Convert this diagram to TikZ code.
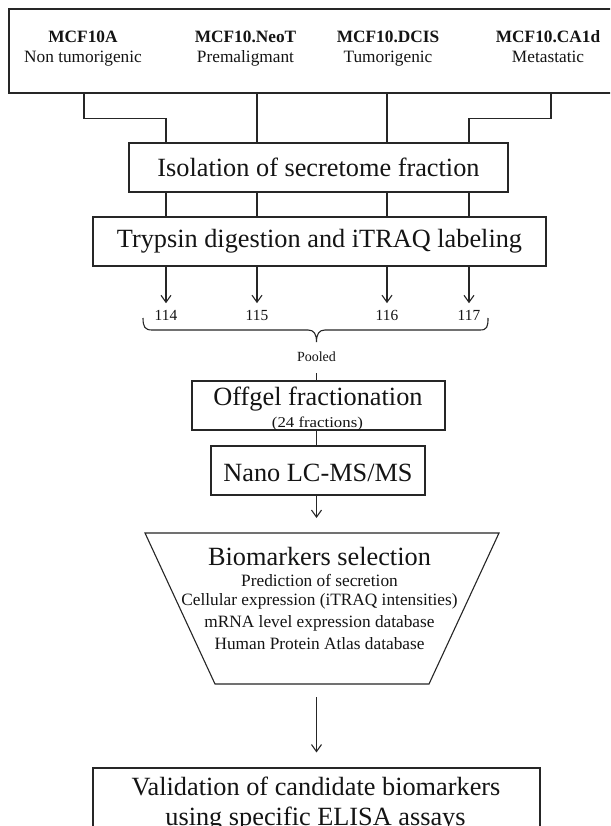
\documentclass[tikz,border=0pt]{standalone}
\usepackage{fontspec}
\setmainfont{Liberation Serif}
\usetikzlibrary{arrows.meta}
\begin{document}
\begin{tikzpicture}[x=1pt,y=-1pt,
  ln/.style={draw=black!85, line width=1.1pt},
  box/.style={ln, inner sep=0pt},
  bigtxt/.style={font=\fontsize{26.3}{29}\selectfont, inner sep=0pt, text=black!92},
  smalltxt/.style={font=\fontsize{17.3}{20.5}\selectfont, inner sep=0pt, align=center, text=black!92},
  lbltxt/.style={smalltxt, anchor=base},
  numtxt/.style={font=\fontsize{15.4}{18}\selectfont, inner sep=0pt, text=black!92},
  arr/.style={ln, -{Straight Barb[length=7pt,width=10pt]}},
]
\useasboundingbox (0,0) rectangle (610,826);
\clip (0,0) rectangle (610,826);
\fill[white] (0,0) rectangle (610,826);

% column coordinates
\coordinate (pA) at (84,0);
\coordinate (pD) at (551,0);
\coordinate (c1) at (166,0);
\coordinate (c2) at (257,0);
\coordinate (c3) at (387,0);
\coordinate (c4) at (469,0);
\coordinate (ax) at (316.5,0);

% top box with cell lines
\node[box, minimum width=606pt, minimum height=84pt] (top) at (312,51) {};
\node[lbltxt] (lA) at (83,42.3) {\textbf{MCF10A}};
\node[lbltxt] (lAs) at (83,62.3) {Non tumorigenic};
\node[lbltxt] (lB) at (245.5,42.3) {\textbf{MCF10.NeoT}};
\node[lbltxt] (lBs) at (245.5,62.3) {Premaligmant};
\node[lbltxt] (lC) at (388,42.3) {\textbf{MCF10.DCIS}};
\node[lbltxt] (lCs) at (388,62.3) {Tumorigenic};
\node[lbltxt] (lD) at (548,42.3) {\textbf{MCF10.CA1d}};
\node[lbltxt] (lDs) at (548,62.3) {Metastatic};

% process boxes
\node[box, minimum width=379pt, minimum height=49pt, bigtxt] (iso) at (318.5,167.5) {Isolation of secretome fraction};
\node[box, minimum width=453pt, minimum height=49pt, bigtxt] (tryp) at (319.5,241.5) {Trypsin digestion and iTRAQ labeling};

% connectors top -> isolation
\draw[ln] (top.south -| pA) -- ++(0,25) -| (iso.north -| c1);
\draw[ln] (top.south -| c2) -- (iso.north -| c2);
\draw[ln] (top.south -| c3) -- (iso.north -| c3);
\draw[ln] (top.south -| pD) -- ++(0,25) -| (iso.north -| c4);

% isolation -> trypsin
\foreach \c in {c1,c2,c3,c4}
  \draw[ln] (iso.south -| \c) -- (tryp.north -| \c);

% iTRAQ labels
\node[numtxt] (n114) at (166,315) {114};
\node[numtxt] (n115) at (257,315) {115};
\node[numtxt] (n116) at (387,315) {116};
\node[numtxt] (n117) at (469,315) {117};
\draw[arr, shorten >=6.5pt] (tryp.south -| c1) -- (n114.north);
\draw[arr, shorten >=6.5pt] (tryp.south -| c2) -- (n115.north);
\draw[arr, shorten >=6.5pt] (tryp.south -| c3) -- (n116.north);
\draw[arr, shorten >=6.5pt] (tryp.south -| c4) -- (n117.north);

% brace
\draw[ln] (143,318) .. controls (143,327) and (145,330) .. (152,330) -- (308,330)
  .. controls (314,330) and (316.5,334) .. (316.5,342)
  .. controls (316.5,334) and (319,330) .. (325,330) -- (480,330)
  .. controls (487,330) and (488,327) .. (488,318);

\node[font=\fontsize{14}{16}\selectfont, inner sep=0pt, text=black!92] (pool) at (316.5,357) {Pooled};

% offgel
\node[box, minimum width=253pt, minimum height=49pt] (off) at (318.5,405.5) {};
\node[bigtxt] (offt) at (318,399.5) {Offgel fractionation};
\node[inner sep=0pt, text=black!92] (offs) at (317.4,423.4) {\scalebox{1.12}[1]{\fontsize{15}{17}\selectfont (24 fractions)}};
\draw[ln, shorten <=11pt] (pool.south) -- (pool.south |- off.north);

% nano
\node[box, minimum width=214pt, minimum height=49pt] (nano) at (318,470.5) {};
\node[bigtxt] (nanot) at (318,473) {Nano LC-MS/MS};
\draw[ln] (off.south -| ax) -- (nano.north -| ax);

% trapezoid
\coordinate (tl) at (145,533);
\coordinate (tr) at (499,533);
\coordinate (br) at (429,684);
\coordinate (bl) at (215,684);
\coordinate (trapN) at (316.5,533);
\coordinate (trapS) at (316.5,684);
\draw[ln] (tl) -- (tr) -- (br) -- (bl) -- cycle;
\draw[arr, shorten >=15pt] (nano.south -| ax) -- (trapN);

\node[bigtxt] (bio) at (319.5,556) {Biomarkers selection};
\node[smalltxt] (s1) at (319.5,580.8) {Prediction of secretion};
\node[smalltxt] (s2) at (319.5,601) {Cellular expression (iTRAQ intensities)};
\node[smalltxt] (s3) at (319.5,623.3) {mRNA level expression database};
\node[smalltxt] (s4) at (319.5,643.5) {Human Protein Atlas database};

% validation
\node[box, minimum width=447pt, minimum height=90pt] (val) at (316.5,813) {};
\node[bigtxt] (v1) at (316,786.5) {Validation of candidate biomarkers};
\node[bigtxt] (v2) at (315.5,819) {using specific ELISA assays};
\draw[arr, shorten <=13pt, shorten >=15pt] (trapS) -- (val.north -| trapS);
\end{tikzpicture}
\end{document}
